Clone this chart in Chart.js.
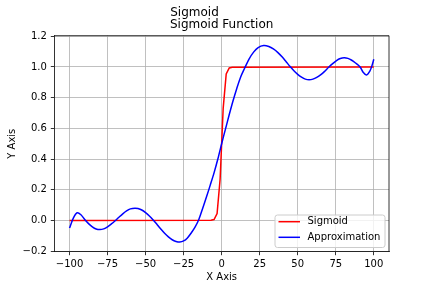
<!DOCTYPE html>
<html>
<head>
<meta charset="utf-8">
<script src="https://cdn.jsdelivr.net/npm/chart.js@4/dist/chart.umd.min.js"></script>
<style>
  body { margin: 0; background: #fff; }
  #wrap { width: 432px; height: 288px; }
</style>
</head>
<body>
<div id="wrap"><canvas id="chart" width="432" height="288"></canvas></div>
<script>
// sigmoid curve
var sigX = [-100, -7, -5, -3, -1, 1, 3, 5, 7, 100];
var sigY = [0, 0.001, 0.006, 0.045, 0.27, 0.73, 0.955, 0.994, 0.999, 1];

// approximation curve
var approxX = [-100, -97.5, -95, -92.5, -90, -87.5, -85, -82.5, -80, -77.5, -75, -72.5, -70, -67.5, -65, -62.5, -60, -57, -55, -52.5, -50, -47.5, -45, -42.5, -40, -37.5, -35, -32.5, -30, -27.5, -25, -22.5, -20, -17.5, -15, -12.5, -10, -7.5, -5, -2.5, 0, 2.5, 5, 7.5, 10, 12.5, 15, 18, 21, 24, 27.6, 31, 34, 37, 40, 42.5, 45, 47.5, 50, 52.5, 55, 57.5, 60, 62.5, 65, 67.5, 70.5, 73, 75.5, 78, 80.5, 83, 85.5, 88, 91, 93, 95.2, 97.5, 99, 100];
var approxY = [-0.05, 0.015, 0.05, 0.037, 0.006, -0.021, -0.042, -0.056, -0.06, -0.055, -0.042, -0.023, -0.002, 0.021, 0.043, 0.062, 0.075, 0.08, 0.077, 0.068, 0.051, 0.029, 0.003, -0.026, -0.056, -0.084, -0.107, -0.126, -0.137, -0.141, -0.134, -0.114, -0.082, -0.044, 0.006, 0.078, 0.152, 0.23, 0.31, 0.4, 0.5, 0.595, 0.69, 0.78, 0.862, 0.935, 0.99, 1.052, 1.097, 1.127, 1.14, 1.134, 1.118, 1.094, 1.063, 1.033, 1.003, 0.976, 0.952, 0.934, 0.921, 0.917, 0.921, 0.932, 0.949, 0.97, 1.0, 1.022, 1.042, 1.055, 1.06, 1.056, 1.044, 1.026, 1.0, 0.966, 0.948, 0.975, 1.015, 1.05];

var xTicks = [-100, -75, -50, -25, 0, 25, 50, 75, 100];
var yTicks = [-0.2, 0, 0.2, 0.4, 0.6, 0.8, 1.0, 1.2];

var seriesNames = ['Sigmoid', 'Approximation'];
var seriesColors = ['#ff0000', '#0000ff'];

function toPoints(xs, ys) {
	return xs.map(function(x, i) { return { x: x, y: ys[i] }; });
}

function minus(s) {
	return s.replace('-', '\u2212');
}

Chart.defaults.font.family = '"DejaVu Sans", sans-serif';
Chart.defaults.font.size = 10;
Chart.defaults.color = '#000';

// top and right spines plus the boxed legend in the lower right
var framePlugin = {
	id: 'frame',
	afterDraw: function(chart) {
		var ctx = chart.ctx, a = chart.chartArea;
		ctx.save();
		ctx.strokeStyle = '#000';
		ctx.lineWidth = 0.8;
		ctx.beginPath();
		ctx.moveTo(a.left, a.top);
		ctx.lineTo(a.right, a.top);
		ctx.lineTo(a.right, a.bottom);
		ctx.stroke();

		// legend
		var w = 110, h = 32.5;
		var right = a.right - 4, bottom = a.bottom - 4.2;
		var left = right - w, top = bottom - h;
		ctx.beginPath();
		if (ctx.roundRect) ctx.roundRect(left, top, w, h, 2.5); else ctx.rect(left, top, w, h);
		ctx.fillStyle = 'rgba(255,255,255,0.8)';
		ctx.fill();
		ctx.strokeStyle = '#cccccc';
		ctx.lineWidth = 1;
		ctx.stroke();

		ctx.font = '10px "DejaVu Sans", sans-serif';
		ctx.textBaseline = 'middle';
		ctx.textAlign = 'left';
		var rows = [bottom - 25.8, bottom - 10.2];
		for (var i = 0; i < seriesNames.length; i++) {
			ctx.strokeStyle = seriesColors[i];
			ctx.lineWidth = 1.5;
			ctx.beginPath();
			ctx.moveTo(left + 3.5, rows[i]);
			ctx.lineTo(left + 25, rows[i]);
			ctx.stroke();
			ctx.fillStyle = '#000';
			ctx.fillText(seriesNames[i], left + 32.5, rows[i]);
		}
		ctx.restore();
	}
};

new Chart(document.getElementById('chart').getContext('2d'), {
	type: 'scatter',
	data: {
		datasets: [{
			label: seriesNames[0],
			data: toPoints(sigX, sigY),
			showLine: true,
			borderColor: seriesColors[0],
			backgroundColor: seriesColors[0],
			borderWidth: 1.5,
			pointRadius: 0,
			tension: 0,
			order: 1
		}, {
			label: seriesNames[1],
			data: toPoints(approxX, approxY),
			showLine: true,
			borderColor: seriesColors[1],
			backgroundColor: seriesColors[1],
			borderWidth: 1.5,
			pointRadius: 0,
			tension: 0.3,
			order: 0
		}]
	},
	options: {
		responsive: false,
		animation: false,
		layout: { padding: { left: 0, right: 43, top: 0, bottom: 0 } },
		plugins: {
			legend: { display: false },
			tooltip: { enabled: false },
			title: {
				display: true,
				text: 'Sigmoid',
				font: { size: 12, weight: 'normal', lineHeight: 1 },
				padding: { top: 6.5, bottom: 0 }
			},
			subtitle: {
				display: true,
				text: 'Sigmoid Function',
				fullSize: false,
				color: '#000',
				font: { size: 12, weight: 'normal', lineHeight: 1 },
				padding: { top: 0.8, bottom: 4.4 }
			}
		},
		scales: {
			x: {
				type: 'linear',
				min: -110,
				max: 110,
				afterBuildTicks: function(s) { s.ticks = xTicks.map(function(v) { return { value: v }; }); },
				afterFit: function(s) { s.height = 36.3; },
				ticks: {
					padding: 3,
					maxRotation: 0,
					callback: function(v) { return minus(String(v)); }
				},
				grid: { color: '#b0b0b0', lineWidth: 0.8, tickLength: 3.5, tickColor: '#000', tickWidth: 0.8 },
				border: { color: '#000', width: 0.8 },
				title: { display: true, text: 'X Axis', font: { size: 10 }, padding: { top: 0, bottom: 5 } }
			},
			y: {
				type: 'linear',
				min: -0.204,
				max: 1.204,
				afterBuildTicks: function(s) { s.ticks = yTicks.map(function(v) { return { value: v }; }); },
				afterFit: function(s) { s.width = 54.3; },
				ticks: {
					padding: 4,
					callback: function(v) { return minus(v.toFixed(1)); }
				},
				grid: { color: '#b0b0b0', lineWidth: 0.8, tickLength: 3.5, tickColor: '#000', tickWidth: 0.8 },
				border: { color: '#000', width: 0.8 },
				title: { display: true, text: 'Y Axis', font: { size: 10 }, padding: { top: 6, bottom: 0 } }
			}
		}
	},
	plugins: [framePlugin]
});
</script>
</body>
</html>
